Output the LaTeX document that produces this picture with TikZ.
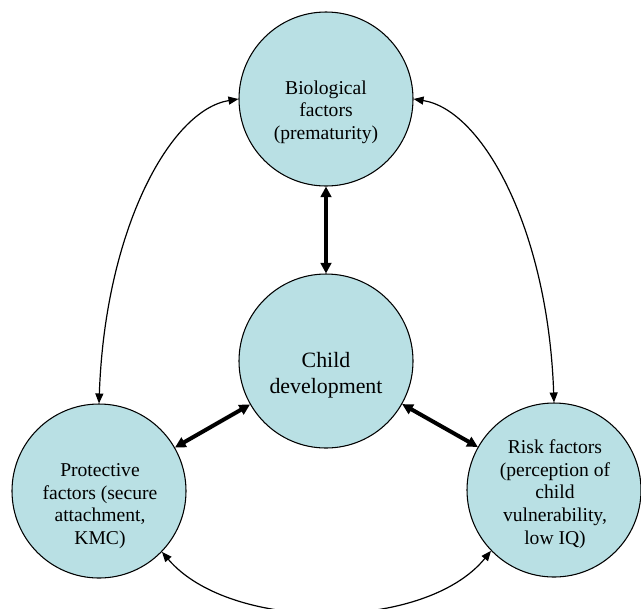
\documentclass[tikz,border=0pt]{standalone}
\usepackage{fontspec}
\setmainfont{Liberation Serif}
\usetikzlibrary{arrows.meta}
\definecolor{bubble}{RGB}{185,224,228}
\begin{document}
\begin{tikzpicture}[x=0.75pt,y=-0.75pt,
  bub/.style={circle,draw=black,line width=0.8pt,fill=bubble,minimum size=130.5pt,inner sep=0pt},
  txt/.style={align=center,font=\fontsize{14.7}{17}\selectfont,inner sep=0pt},
  bigtxt/.style={align=center,font=\fontsize{16.4}{19.5}\selectfont,inner sep=0pt},
  thick arrow/.style={line width=3pt,{Triangle[length=8pt,width=8pt]}-{Triangle[length=8pt,width=8pt]}},
  thin arrow/.style={line width=0.9pt,{Triangle[length=7.5pt,width=6pt]}-{Triangle[length=7.5pt,width=6pt]}}]
\useasboundingbox (0,0) rectangle (641,608);
\node[bub] (top) at (326,99) {};
\node[bub] (mid) at (326,361) {};
\node[bub] (left) at (99,491) {};
\node[bub] (right) at (554,490) {};
\node[txt] (ttop) at (326,112) {Biological\\factors\\(prematurity)};
\node[bigtxt] (tmid) at (326,375) {Child\\development};
\node[txt] (tleft) at (100,506) {Protective\\factors (secure\\attachment,\\KMC)};
\node[txt] (tright) at (555,494) {Risk factors\\(perception of\\child\\vulnerability,\\low IQ)};
\draw[thick arrow] (top) -- (mid);
\draw[thick arrow] (mid) -- (left);
\draw[thick arrow] (mid) -- (right);
\draw[thin arrow] (left.north) .. controls (105,230) and (170,110) .. (top.west);
\draw[thin arrow] (right.north) .. controls (548,230) and (483,110) .. (top.east);
\draw[thin arrow] (left.-44) .. controls (230,632) and (425,632) .. (right.224);
\end{tikzpicture}
\end{document}
